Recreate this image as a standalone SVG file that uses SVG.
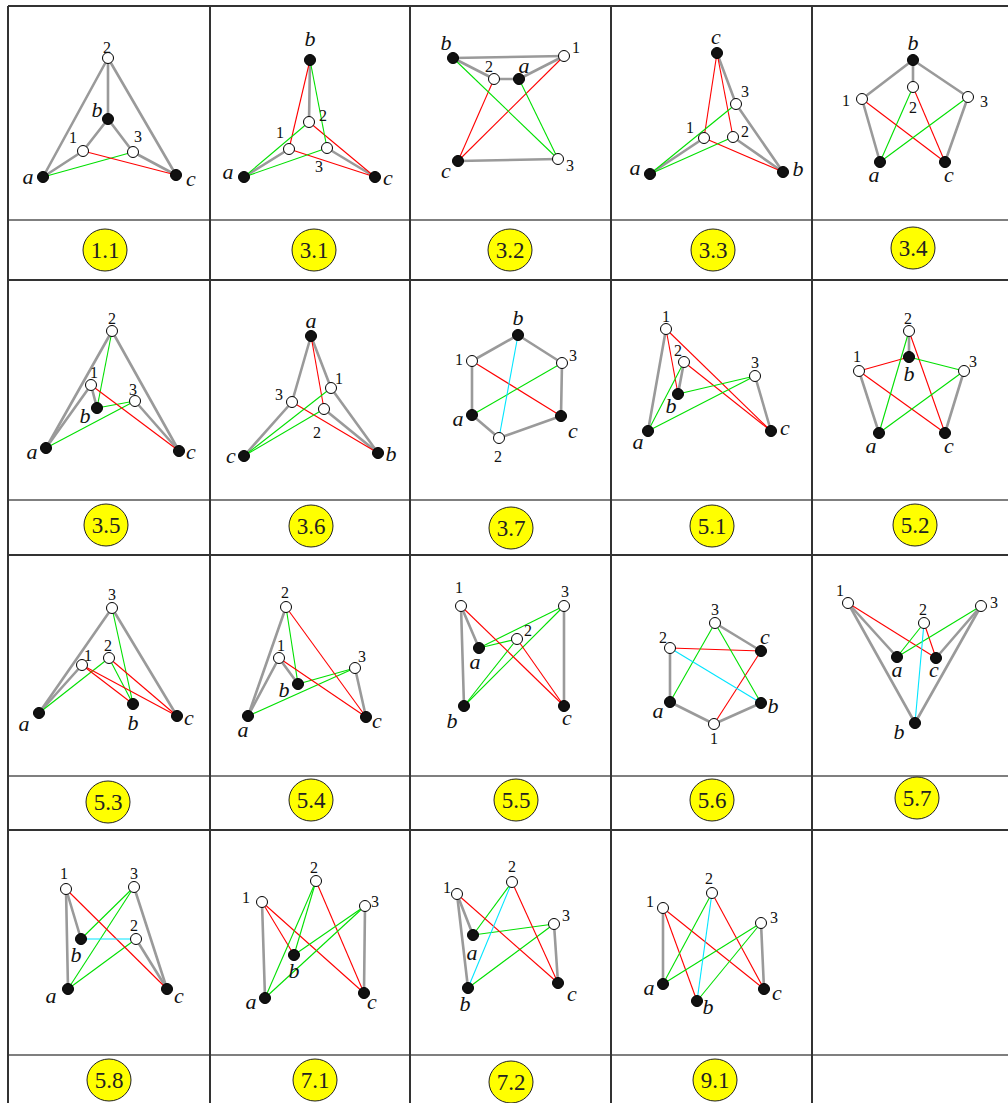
<svg xmlns="http://www.w3.org/2000/svg" width="1008" height="1103" viewBox="0 0 1008 1103">
<style>
.grid{stroke:#333;stroke-width:2;fill:none}
.dv{stroke:#555;stroke-width:1.3}
.e{stroke:#9a9a9a;stroke-width:2.6;stroke-linecap:round}
.r{stroke:#ff0000;stroke-width:1.1}
.gn{stroke:#00e000;stroke-width:1.1}
.cy{stroke:#00e5ff;stroke-width:1.1}
.w{fill:#fff;stroke:#000;stroke-width:1}
.k{fill:#111;stroke:#000;stroke-width:1}
.d{font-family:"Liberation Serif",serif;font-size:16px;text-anchor:middle;fill:#111}
.l{font-family:"Liberation Serif",serif;font-style:italic;font-size:22px;text-anchor:middle;fill:#111}
.tag{fill:#ffff00;stroke:#222;stroke-width:1}
.tt{font-family:"Liberation Serif",serif;font-size:23px;text-anchor:middle;fill:#222}
</style>
<rect width="1008" height="1103" fill="#fff"/>
<g id="grid">
<line class="grid" x1="8" y1="6" x2="1008" y2="6"/>
<line class="grid" x1="8" y1="280" x2="1008" y2="280"/>
<line class="grid" x1="8" y1="555" x2="1008" y2="555"/>
<line class="grid" x1="8" y1="830" x2="1008" y2="830"/>
<line class="dv" x1="8" y1="220" x2="1008" y2="220"/>
<line class="dv" x1="8" y1="500" x2="1008" y2="500"/>
<line class="dv" x1="8" y1="776" x2="1008" y2="776"/>
<line class="dv" x1="8" y1="1055" x2="1008" y2="1055"/>
<line class="grid" x1="8" y1="6" x2="8" y2="1103"/>
<line class="grid" x1="210" y1="6" x2="210" y2="1103"/>
<line class="grid" x1="410" y1="6" x2="410" y2="1103"/>
<line class="grid" x1="611" y1="6" x2="611" y2="1103"/>
<line class="grid" x1="812" y1="6" x2="812" y2="1103"/>
</g>
<g id="tags">
<g id="t11"><ellipse class="tag" cx="105" cy="250" rx="22" ry="21"/><text class="tt" x="105" y="258">1.1</text></g>
<g id="t31"><ellipse class="tag" cx="314" cy="250" rx="22" ry="21"/><text class="tt" x="314" y="258">3.1</text></g>
<g id="t32"><ellipse class="tag" cx="510" cy="250" rx="22" ry="21"/><text class="tt" x="510" y="258">3.2</text></g>
<g id="t33"><ellipse class="tag" cx="713" cy="250" rx="22" ry="21"/><text class="tt" x="713" y="258">3.3</text></g>
<g id="t34"><ellipse class="tag" cx="913" cy="248" rx="22" ry="21"/><text class="tt" x="913" y="256">3.4</text></g>
<g id="t35"><ellipse class="tag" cx="106" cy="525" rx="22" ry="21"/><text class="tt" x="106" y="533">3.5</text></g>
<g id="t36"><ellipse class="tag" cx="311" cy="526" rx="22" ry="21"/><text class="tt" x="311" y="534">3.6</text></g>
<g id="t37"><ellipse class="tag" cx="511" cy="528" rx="22" ry="21"/><text class="tt" x="511" y="536">3.7</text></g>
<g id="t51"><ellipse class="tag" cx="712" cy="526" rx="22" ry="21"/><text class="tt" x="712" y="534">5.1</text></g>
<g id="t52"><ellipse class="tag" cx="915" cy="525" rx="22" ry="21"/><text class="tt" x="915" y="533">5.2</text></g>
<g id="t53"><ellipse class="tag" cx="108" cy="802" rx="22" ry="21"/><text class="tt" x="108" y="810">5.3</text></g>
<g id="t54"><ellipse class="tag" cx="311" cy="800" rx="22" ry="21"/><text class="tt" x="311" y="808">5.4</text></g>
<g id="t55"><ellipse class="tag" cx="516" cy="800" rx="22" ry="21"/><text class="tt" x="516" y="808">5.5</text></g>
<g id="t56"><ellipse class="tag" cx="712" cy="800" rx="22" ry="21"/><text class="tt" x="712" y="808">5.6</text></g>
<g id="t57"><ellipse class="tag" cx="917" cy="798" rx="22" ry="21"/><text class="tt" x="917" y="806">5.7</text></g>
<g id="t58"><ellipse class="tag" cx="109" cy="1080" rx="22" ry="21"/><text class="tt" x="109" y="1088">5.8</text></g>
<g id="t71"><ellipse class="tag" cx="315" cy="1080" rx="22" ry="21"/><text class="tt" x="315" y="1088">7.1</text></g>
<g id="t72"><ellipse class="tag" cx="511" cy="1082" rx="22" ry="21"/><text class="tt" x="511" y="1090">7.2</text></g>
<g id="t91"><ellipse class="tag" cx="715" cy="1080" rx="22" ry="21"/><text class="tt" x="715" y="1088">9.1</text></g>
</g>
<g id="connectors">
<!-- 1.1 -->
<line class="e" x1="43" y1="177" x2="108" y2="58"/><line class="e" x1="108" y1="58" x2="176" y2="175"/><line class="e" x1="108" y1="58" x2="108" y2="119"/><line class="e" x1="108" y1="119" x2="83" y2="151"/><line class="e" x1="108" y1="119" x2="133" y2="152"/><line class="e" x1="43" y1="177" x2="83" y2="151"/><line class="e" x1="133" y1="152" x2="176" y2="175"/>
<line class="gn" x1="43" y1="177" x2="133" y2="152"/><line class="r" x1="83" y1="151" x2="176" y2="175"/>
<!-- 3.1 -->
<line class="e" x1="310" y1="60" x2="309" y2="122"/><line class="e" x1="289" y1="149" x2="244" y2="177"/><line class="e" x1="327" y1="148" x2="375" y2="177"/>
<line class="r" x1="310" y1="60" x2="289" y2="149"/><line class="r" x1="309" y1="122" x2="375" y2="177"/><line class="r" x1="289" y1="149" x2="375" y2="177"/>
<line class="gn" x1="310" y1="60" x2="327" y2="148"/><line class="gn" x1="244" y1="177" x2="309" y2="122"/><line class="gn" x1="244" y1="177" x2="327" y2="148"/>
<!-- 3.2 -->
<line class="e" x1="453" y1="58" x2="564" y2="56"/><line class="e" x1="453" y1="58" x2="494" y2="79"/><line class="e" x1="494" y1="79" x2="519" y2="79"/><line class="e" x1="519" y1="79" x2="564" y2="56"/><line class="e" x1="458" y1="161" x2="558" y2="159"/>
<line class="r" x1="494" y1="79" x2="458" y2="161"/><line class="r" x1="564" y1="56" x2="458" y2="161"/>
<line class="gn" x1="453" y1="58" x2="558" y2="159"/><line class="gn" x1="519" y1="79" x2="558" y2="159"/>
<!-- 3.3 -->
<line class="e" x1="717" y1="53" x2="736" y2="104"/><line class="e" x1="736" y1="104" x2="783" y2="172"/><line class="e" x1="650" y1="174" x2="704" y2="138"/><line class="e" x1="733" y1="137" x2="783" y2="172"/>
<line class="r" x1="717" y1="53" x2="704" y2="138"/><line class="r" x1="717" y1="53" x2="733" y2="137"/><line class="r" x1="704" y1="138" x2="783" y2="172"/>
<line class="gn" x1="650" y1="174" x2="736" y2="104"/><line class="gn" x1="650" y1="174" x2="733" y2="137"/>
<!-- 3.4 -->
<line class="e" x1="913" y1="60" x2="862" y2="99"/><line class="e" x1="913" y1="60" x2="968" y2="97"/><line class="e" x1="913" y1="60" x2="913" y2="87"/><line class="e" x1="862" y1="99" x2="880" y2="162"/><line class="e" x1="968" y1="97" x2="945" y2="162"/>
<line class="r" x1="862" y1="99" x2="945" y2="162"/><line class="r" x1="913" y1="87" x2="945" y2="162"/>
<line class="gn" x1="913" y1="87" x2="880" y2="162"/><line class="gn" x1="968" y1="97" x2="880" y2="162"/>
<!-- 3.5 -->
<line class="e" x1="46" y1="448" x2="112" y2="331"/><line class="e" x1="112" y1="331" x2="179" y2="451"/><line class="e" x1="46" y1="448" x2="91" y2="385"/><line class="e" x1="91" y1="385" x2="97" y2="408"/><line class="e" x1="135" y1="401" x2="179" y2="451"/>
<line class="gn" x1="112" y1="331" x2="97" y2="408"/><line class="gn" x1="97" y1="408" x2="135" y2="401"/><line class="gn" x1="46" y1="448" x2="135" y2="401"/>
<line class="r" x1="91" y1="385" x2="179" y2="451"/>
<!-- 3.6 -->
<line class="e" x1="311" y1="336" x2="292" y2="402"/><line class="e" x1="311" y1="336" x2="331" y2="388"/><line class="e" x1="292" y1="402" x2="244" y2="456"/><line class="e" x1="331" y1="388" x2="378" y2="453"/><line class="e" x1="324" y1="409" x2="378" y2="453"/>
<line class="r" x1="311" y1="336" x2="324" y2="409"/><line class="r" x1="292" y1="402" x2="378" y2="453"/>
<line class="gn" x1="244" y1="456" x2="331" y2="388"/><line class="gn" x1="244" y1="456" x2="324" y2="409"/>
<!-- 3.7 -->
<line class="e" x1="518" y1="335" x2="472" y2="361"/><line class="e" x1="518" y1="335" x2="562" y2="363"/><line class="e" x1="472" y1="361" x2="472" y2="415"/><line class="e" x1="562" y1="363" x2="561" y2="416"/><line class="e" x1="472" y1="415" x2="499" y2="438"/><line class="e" x1="499" y1="438" x2="561" y2="416"/>
<line class="r" x1="472" y1="361" x2="561" y2="416"/><line class="gn" x1="472" y1="415" x2="562" y2="363"/><line class="cy" x1="518" y1="335" x2="499" y2="438"/>
<!-- 5.1 -->
<line class="e" x1="666" y1="329" x2="648" y2="431"/><line class="e" x1="684" y1="362" x2="678" y2="394"/><line class="e" x1="755" y1="376" x2="771" y2="431"/>
<line class="r" x1="666" y1="329" x2="678" y2="394"/><line class="r" x1="666" y1="329" x2="771" y2="431"/><line class="r" x1="684" y1="362" x2="771" y2="431"/>
<line class="gn" x1="684" y1="362" x2="648" y2="431"/><line class="gn" x1="678" y1="394" x2="755" y2="376"/><line class="gn" x1="648" y1="431" x2="755" y2="376"/>
<!-- 5.2 -->
<line class="e" x1="909" y1="331" x2="909" y2="357"/><line class="e" x1="859" y1="371" x2="879" y2="433"/><line class="e" x1="964" y1="371" x2="945" y2="433"/>
<line class="r" x1="859" y1="371" x2="909" y2="357"/><line class="r" x1="859" y1="371" x2="945" y2="433"/><line class="r" x1="909" y1="331" x2="945" y2="433"/>
<line class="gn" x1="909" y1="331" x2="879" y2="433"/><line class="gn" x1="909" y1="357" x2="964" y2="371"/><line class="gn" x1="879" y1="433" x2="964" y2="371"/>
<!-- 5.3 -->
<line class="e" x1="39" y1="713" x2="112" y2="608"/><line class="e" x1="112" y1="608" x2="177" y2="716"/><line class="e" x1="39" y1="713" x2="82" y2="665"/>
<line class="gn" x1="112" y1="608" x2="133" y2="704"/><line class="gn" x1="109" y1="658" x2="133" y2="704"/><line class="gn" x1="39" y1="713" x2="109" y2="658"/>
<line class="r" x1="82" y1="665" x2="133" y2="704"/><line class="r" x1="82" y1="665" x2="177" y2="716"/><line class="r" x1="109" y1="658" x2="177" y2="716"/>
<!-- 5.4 -->
<line class="e" x1="286" y1="607" x2="248" y2="716"/><line class="e" x1="279" y1="658" x2="248" y2="716"/><line class="e" x1="279" y1="658" x2="298" y2="684"/><line class="e" x1="355" y1="668" x2="366" y2="717"/>
<line class="gn" x1="286" y1="607" x2="298" y2="684"/><line class="gn" x1="298" y1="684" x2="355" y2="668"/><line class="gn" x1="248" y1="716" x2="355" y2="668"/>
<line class="r" x1="286" y1="607" x2="366" y2="717"/><line class="r" x1="279" y1="658" x2="366" y2="717"/>
<!-- 5.5 -->
<line class="e" x1="461" y1="606" x2="479" y2="648"/><line class="e" x1="461" y1="606" x2="464" y2="706"/><line class="e" x1="564" y1="606" x2="564" y2="706"/>
<line class="gn" x1="479" y1="648" x2="564" y2="606"/><line class="gn" x1="479" y1="648" x2="517" y2="639"/><line class="gn" x1="464" y1="706" x2="517" y2="639"/><line class="gn" x1="464" y1="706" x2="564" y2="606"/>
<line class="r" x1="461" y1="606" x2="564" y2="706"/><line class="r" x1="517" y1="639" x2="564" y2="706"/>
<!-- 5.6 -->
<line class="e" x1="715" y1="623" x2="761" y2="651"/><line class="e" x1="670" y1="648" x2="670" y2="702"/><line class="e" x1="670" y1="702" x2="714" y2="724"/><line class="e" x1="714" y1="724" x2="761" y2="703"/>
<line class="r" x1="670" y1="648" x2="761" y2="651"/><line class="r" x1="714" y1="724" x2="761" y2="651"/>
<line class="gn" x1="715" y1="623" x2="670" y2="702"/><line class="gn" x1="715" y1="623" x2="761" y2="703"/>
<line class="cy" x1="670" y1="648" x2="761" y2="703"/>
<!-- 5.7 -->
<line class="e" x1="848" y1="603" x2="897" y2="657"/><line class="e" x1="848" y1="603" x2="915" y2="723"/><line class="e" x1="981" y1="606" x2="936" y2="658"/><line class="e" x1="981" y1="606" x2="915" y2="723"/>
<line class="r" x1="848" y1="603" x2="936" y2="658"/><line class="r" x1="924" y1="623" x2="936" y2="658"/>
<line class="gn" x1="924" y1="623" x2="897" y2="657"/><line class="gn" x1="981" y1="606" x2="897" y2="657"/>
<line class="cy" x1="924" y1="623" x2="915" y2="723"/>
<!-- 5.8 -->
<line class="e" x1="66" y1="889" x2="68" y2="989"/><line class="e" x1="66" y1="889" x2="81" y2="939"/><line class="e" x1="134" y1="887" x2="167" y2="989"/><line class="e" x1="136" y1="939" x2="167" y2="989"/>
<line class="gn" x1="134" y1="887" x2="81" y2="939"/><line class="gn" x1="134" y1="887" x2="68" y2="989"/><line class="gn" x1="136" y1="939" x2="68" y2="989"/>
<line class="r" x1="66" y1="889" x2="167" y2="989"/><line class="cy" x1="81" y1="939" x2="136" y2="939"/>
<!-- 7.1 -->
<line class="e" x1="262" y1="902" x2="265" y2="998"/><line class="e" x1="365" y1="906" x2="364" y2="993"/>
<line class="r" x1="262" y1="902" x2="294" y2="955"/><line class="r" x1="262" y1="902" x2="364" y2="993"/><line class="r" x1="316" y1="881" x2="364" y2="993"/>
<line class="gn" x1="316" y1="881" x2="265" y2="998"/><line class="gn" x1="316" y1="881" x2="294" y2="955"/><line class="gn" x1="365" y1="906" x2="294" y2="955"/><line class="gn" x1="365" y1="906" x2="265" y2="998"/>
<!-- 7.2 -->
<line class="e" x1="457" y1="894" x2="473" y2="935"/><line class="e" x1="457" y1="894" x2="468" y2="988"/><line class="e" x1="554" y1="924" x2="558" y2="983"/>
<line class="gn" x1="512" y1="882" x2="473" y2="935"/><line class="gn" x1="473" y1="935" x2="554" y2="924"/><line class="gn" x1="468" y1="988" x2="554" y2="924"/>
<line class="r" x1="457" y1="894" x2="558" y2="983"/><line class="r" x1="512" y1="882" x2="558" y2="983"/>
<line class="cy" x1="512" y1="882" x2="468" y2="988"/>
<!-- 9.1 -->
<line class="e" x1="663" y1="908" x2="663" y2="984"/><line class="e" x1="761" y1="923" x2="764" y2="989"/>
<line class="r" x1="663" y1="908" x2="697" y2="1001"/><line class="r" x1="663" y1="908" x2="764" y2="989"/><line class="r" x1="712" y1="893" x2="764" y2="989"/>
<line class="gn" x1="712" y1="893" x2="663" y2="984"/><line class="gn" x1="761" y1="923" x2="663" y2="984"/><line class="gn" x1="761" y1="923" x2="697" y2="1001"/>
<line class="cy" x1="712" y1="893" x2="697" y2="1001"/>
</g>
<g id="nodes">
<!-- 1.1 -->
<g id="p11-2"><circle class="w" cx="108" cy="58" r="5.5"/><text class="d" x="107" y="53">2</text></g>
<g id="p11-b"><circle class="k" cx="108" cy="119" r="5.5"/><text class="l" x="97" y="117">b</text></g>
<g id="p11-1"><circle class="w" cx="83" cy="151" r="5.5"/><text class="d" x="73" y="143">1</text></g>
<g id="p11-3"><circle class="w" cx="133" cy="152" r="5.5"/><text class="d" x="138" y="142">3</text></g>
<g id="p11-a"><circle class="k" cx="43" cy="177" r="5.5"/><text class="l" x="28" y="184">a</text></g>
<g id="p11-c"><circle class="k" cx="176" cy="175" r="5.5"/><text class="l" x="191" y="186">c</text></g>
<!-- 3.1 -->
<g id="p31-b"><circle class="k" cx="310" cy="60" r="5.5"/><text class="l" x="310" y="46">b</text></g>
<g id="p31-2"><circle class="w" cx="309" cy="122" r="5.5"/><text class="d" x="323" y="121">2</text></g>
<g id="p31-1"><circle class="w" cx="289" cy="149" r="5.5"/><text class="d" x="280" y="138">1</text></g>
<g id="p31-3"><circle class="w" cx="327" cy="148" r="5.5"/><text class="d" x="319" y="172">3</text></g>
<g id="p31-a"><circle class="k" cx="244" cy="177" r="5.5"/><text class="l" x="228" y="179">a</text></g>
<g id="p31-c"><circle class="k" cx="375" cy="177" r="5.5"/><text class="l" x="388" y="185">c</text></g>
<!-- 3.2 -->
<g id="p32-b"><circle class="k" cx="453" cy="58" r="5.5"/><text class="l" x="446" y="50">b</text></g>
<g id="p32-1"><circle class="w" cx="564" cy="56" r="5.5"/><text class="d" x="576" y="53">1</text></g>
<g id="p32-2"><circle class="w" cx="494" cy="79" r="5.5"/><text class="d" x="489" y="72">2</text></g>
<g id="p32-a"><circle class="k" cx="519" cy="79" r="5.5"/><text class="l" x="524" y="73">a</text></g>
<g id="p32-c"><circle class="k" cx="458" cy="161" r="5.5"/><text class="l" x="446" y="178">c</text></g>
<g id="p32-3"><circle class="w" cx="558" cy="159" r="5.5"/><text class="d" x="570" y="171">3</text></g>
<!-- 3.3 -->
<g id="p33-c"><circle class="k" cx="717" cy="53" r="5.5"/><text class="l" x="716" y="44">c</text></g>
<g id="p33-3"><circle class="w" cx="736" cy="104" r="5.5"/><text class="d" x="745" y="97">3</text></g>
<g id="p33-1"><circle class="w" cx="704" cy="138" r="5.5"/><text class="d" x="690" y="133">1</text></g>
<g id="p33-2"><circle class="w" cx="733" cy="137" r="5.5"/><text class="d" x="745" y="137">2</text></g>
<g id="p33-a"><circle class="k" cx="650" cy="174" r="5.5"/><text class="l" x="635" y="175">a</text></g>
<g id="p33-b"><circle class="k" cx="783" cy="172" r="5.5"/><text class="l" x="798" y="176">b</text></g>
<!-- 3.4 -->
<g id="p34-b"><circle class="k" cx="913" cy="60" r="5.5"/><text class="l" x="913" y="50">b</text></g>
<g id="p34-2"><circle class="w" cx="913" cy="87" r="5.5"/><text class="d" x="913" y="113">2</text></g>
<g id="p34-1"><circle class="w" cx="862" cy="99" r="5.5"/><text class="d" x="846" y="106">1</text></g>
<g id="p34-3"><circle class="w" cx="968" cy="97" r="5.5"/><text class="d" x="984" y="107">3</text></g>
<g id="p34-a"><circle class="k" cx="880" cy="162" r="5.5"/><text class="l" x="874" y="182">a</text></g>
<g id="p34-c"><circle class="k" cx="945" cy="162" r="5.5"/><text class="l" x="949" y="182">c</text></g>
<!-- 3.5 -->
<g id="p35-2"><circle class="w" cx="112" cy="331" r="5.5"/><text class="d" x="112" y="324">2</text></g>
<g id="p35-1"><circle class="w" cx="91" cy="385" r="5.5"/><text class="d" x="94" y="378">1</text></g>
<g id="p35-b"><circle class="k" cx="97" cy="408" r="5.5"/><text class="l" x="85" y="423">b</text></g>
<g id="p35-3"><circle class="w" cx="135" cy="401" r="5.5"/><text class="d" x="133" y="395">3</text></g>
<g id="p35-a"><circle class="k" cx="46" cy="448" r="5.5"/><text class="l" x="32" y="459">a</text></g>
<g id="p35-c"><circle class="k" cx="179" cy="451" r="5.5"/><text class="l" x="191" y="459">c</text></g>
<!-- 3.6 -->
<g id="p36-a"><circle class="k" cx="311" cy="336" r="5.5"/><text class="l" x="311" y="328">a</text></g>
<g id="p36-1"><circle class="w" cx="331" cy="388" r="5.5"/><text class="d" x="339" y="384">1</text></g>
<g id="p36-3"><circle class="w" cx="292" cy="402" r="5.5"/><text class="d" x="279" y="400">3</text></g>
<g id="p36-2"><circle class="w" cx="324" cy="409" r="5.5"/><text class="d" x="317" y="438">2</text></g>
<g id="p36-c"><circle class="k" cx="244" cy="456" r="5.5"/><text class="l" x="231" y="463">c</text></g>
<g id="p36-b"><circle class="k" cx="378" cy="453" r="5.5"/><text class="l" x="391" y="461">b</text></g>
<!-- 3.7 -->
<g id="p37-b"><circle class="k" cx="518" cy="335" r="5.5"/><text class="l" x="518" y="325">b</text></g>
<g id="p37-1"><circle class="w" cx="472" cy="361" r="5.5"/><text class="d" x="459" y="365">1</text></g>
<g id="p37-3"><circle class="w" cx="562" cy="363" r="5.5"/><text class="d" x="573" y="361">3</text></g>
<g id="p37-a"><circle class="k" cx="472" cy="415" r="5.5"/><text class="l" x="458" y="426">a</text></g>
<g id="p37-c"><circle class="k" cx="561" cy="416" r="5.5"/><text class="l" x="573" y="438">c</text></g>
<g id="p37-2"><circle class="w" cx="499" cy="438" r="5.5"/><text class="d" x="498" y="462">2</text></g>
<!-- 5.1 -->
<g id="p51-1"><circle class="w" cx="666" cy="329" r="5.5"/><text class="d" x="666" y="322">1</text></g>
<g id="p51-2"><circle class="w" cx="684" cy="362" r="5.5"/><text class="d" x="678" y="356">2</text></g>
<g id="p51-3"><circle class="w" cx="755" cy="376" r="5.5"/><text class="d" x="755" y="368">3</text></g>
<g id="p51-b"><circle class="k" cx="678" cy="394" r="5.5"/><text class="l" x="671" y="413">b</text></g>
<g id="p51-a"><circle class="k" cx="648" cy="431" r="5.5"/><text class="l" x="638" y="449">a</text></g>
<g id="p51-c"><circle class="k" cx="771" cy="431" r="5.5"/><text class="l" x="785" y="435">c</text></g>
<!-- 5.2 -->
<g id="p52-2"><circle class="w" cx="909" cy="331" r="5.5"/><text class="d" x="908" y="324">2</text></g>
<g id="p52-b"><circle class="k" cx="909" cy="357" r="5.5"/><text class="l" x="909" y="381">b</text></g>
<g id="p52-1"><circle class="w" cx="859" cy="371" r="5.5"/><text class="d" x="857" y="362">1</text></g>
<g id="p52-3"><circle class="w" cx="964" cy="371" r="5.5"/><text class="d" x="973" y="367">3</text></g>
<g id="p52-a"><circle class="k" cx="879" cy="433" r="5.5"/><text class="l" x="871" y="453">a</text></g>
<g id="p52-c"><circle class="k" cx="945" cy="433" r="5.5"/><text class="l" x="949" y="453">c</text></g>
<!-- 5.3 -->
<g id="p53-3"><circle class="w" cx="112" cy="608" r="5.5"/><text class="d" x="112" y="600">3</text></g>
<g id="p53-1"><circle class="w" cx="82" cy="665" r="5.5"/><text class="d" x="88" y="661">1</text></g>
<g id="p53-2"><circle class="w" cx="109" cy="658" r="5.5"/><text class="d" x="108" y="651">2</text></g>
<g id="p53-a"><circle class="k" cx="39" cy="713" r="5.5"/><text class="l" x="24" y="731">a</text></g>
<g id="p53-b"><circle class="k" cx="133" cy="704" r="5.5"/><text class="l" x="133" y="730">b</text></g>
<g id="p53-c"><circle class="k" cx="177" cy="716" r="5.5"/><text class="l" x="189" y="725">c</text></g>
<!-- 5.4 -->
<g id="p54-2"><circle class="w" cx="286" cy="607" r="5.5"/><text class="d" x="285" y="598">2</text></g>
<g id="p54-1"><circle class="w" cx="279" cy="658" r="5.5"/><text class="d" x="281" y="651">1</text></g>
<g id="p54-3"><circle class="w" cx="355" cy="668" r="5.5"/><text class="d" x="362" y="662">3</text></g>
<g id="p54-b"><circle class="k" cx="298" cy="684" r="5.5"/><text class="l" x="284" y="697">b</text></g>
<g id="p54-a"><circle class="k" cx="248" cy="716" r="5.5"/><text class="l" x="243" y="737">a</text></g>
<g id="p54-c"><circle class="k" cx="366" cy="717" r="5.5"/><text class="l" x="377" y="728">c</text></g>
<!-- 5.5 -->
<g id="p55-1"><circle class="w" cx="461" cy="606" r="5.5"/><text class="d" x="459" y="593">1</text></g>
<g id="p55-3"><circle class="w" cx="564" cy="606" r="5.5"/><text class="d" x="565" y="597">3</text></g>
<g id="p55-2"><circle class="w" cx="517" cy="639" r="5.5"/><text class="d" x="528" y="636">2</text></g>
<g id="p55-a"><circle class="k" cx="479" cy="648" r="5.5"/><text class="l" x="475" y="669">a</text></g>
<g id="p55-b"><circle class="k" cx="464" cy="706" r="5.5"/><text class="l" x="452" y="728">b</text></g>
<g id="p55-c"><circle class="k" cx="564" cy="706" r="5.5"/><text class="l" x="567" y="725">c</text></g>
<!-- 5.6 -->
<g id="p56-3"><circle class="w" cx="715" cy="623" r="5.5"/><text class="d" x="715" y="615">3</text></g>
<g id="p56-c"><circle class="k" cx="761" cy="651" r="5.5"/><text class="l" x="765" y="644">c</text></g>
<g id="p56-2"><circle class="w" cx="670" cy="648" r="5.5"/><text class="d" x="663" y="643">2</text></g>
<g id="p56-a"><circle class="k" cx="670" cy="702" r="5.5"/><text class="l" x="658" y="718">a</text></g>
<g id="p56-b"><circle class="k" cx="761" cy="703" r="5.5"/><text class="l" x="773" y="713">b</text></g>
<g id="p56-1"><circle class="w" cx="714" cy="724" r="5.5"/><text class="d" x="714" y="744">1</text></g>
<!-- 5.7 -->
<g id="p57-1"><circle class="w" cx="848" cy="603" r="5.5"/><text class="d" x="840" y="596">1</text></g>
<g id="p57-2"><circle class="w" cx="924" cy="623" r="5.5"/><text class="d" x="923" y="615">2</text></g>
<g id="p57-3"><circle class="w" cx="981" cy="606" r="5.5"/><text class="d" x="994" y="608">3</text></g>
<g id="p57-a"><circle class="k" cx="897" cy="657" r="5.5"/><text class="l" x="897" y="677">a</text></g>
<g id="p57-c"><circle class="k" cx="936" cy="658" r="5.5"/><text class="l" x="934" y="677">c</text></g>
<g id="p57-b"><circle class="k" cx="915" cy="723" r="5.5"/><text class="l" x="899" y="739">b</text></g>
<!-- 5.8 -->
<g id="p58-1"><circle class="w" cx="66" cy="889" r="5.5"/><text class="d" x="64" y="879">1</text></g>
<g id="p58-3"><circle class="w" cx="134" cy="887" r="5.5"/><text class="d" x="134" y="879">3</text></g>
<g id="p58-2"><circle class="w" cx="136" cy="939" r="5.5"/><text class="d" x="134" y="931">2</text></g>
<g id="p58-b"><circle class="k" cx="81" cy="939" r="5.5"/><text class="l" x="76" y="962">b</text></g>
<g id="p58-a"><circle class="k" cx="68" cy="989" r="5.5"/><text class="l" x="51" y="1003">a</text></g>
<g id="p58-c"><circle class="k" cx="167" cy="989" r="5.5"/><text class="l" x="179" y="1003">c</text></g>
<!-- 7.1 -->
<g id="p71-2"><circle class="w" cx="316" cy="881" r="5.5"/><text class="d" x="314" y="873">2</text></g>
<g id="p71-1"><circle class="w" cx="262" cy="902" r="5.5"/><text class="d" x="246" y="903">1</text></g>
<g id="p71-3"><circle class="w" cx="365" cy="906" r="5.5"/><text class="d" x="375" y="907">3</text></g>
<g id="p71-b"><circle class="k" cx="294" cy="955" r="5.5"/><text class="l" x="294" y="978">b</text></g>
<g id="p71-a"><circle class="k" cx="265" cy="998" r="5.5"/><text class="l" x="251" y="1009">a</text></g>
<g id="p71-c"><circle class="k" cx="364" cy="993" r="5.5"/><text class="l" x="372" y="1009">c</text></g>
<!-- 7.2 -->
<g id="p72-1"><circle class="w" cx="457" cy="894" r="5.5"/><text class="d" x="447" y="893">1</text></g>
<g id="p72-2"><circle class="w" cx="512" cy="882" r="5.5"/><text class="d" x="512" y="872">2</text></g>
<g id="p72-3"><circle class="w" cx="554" cy="924" r="5.5"/><text class="d" x="566" y="921">3</text></g>
<g id="p72-a"><circle class="k" cx="473" cy="935" r="5.5"/><text class="l" x="472" y="960">a</text></g>
<g id="p72-b"><circle class="k" cx="468" cy="988" r="5.5"/><text class="l" x="465" y="1011">b</text></g>
<g id="p72-c"><circle class="k" cx="558" cy="983" r="5.5"/><text class="l" x="572" y="1001">c</text></g>
<!-- 9.1 -->
<g id="p91-1"><circle class="w" cx="663" cy="908" r="5.5"/><text class="d" x="650" y="907">1</text></g>
<g id="p91-2"><circle class="w" cx="712" cy="893" r="5.5"/><text class="d" x="709" y="884">2</text></g>
<g id="p91-3"><circle class="w" cx="761" cy="923" r="5.5"/><text class="d" x="774" y="923">3</text></g>
<g id="p91-a"><circle class="k" cx="663" cy="984" r="5.5"/><text class="l" x="649" y="995">a</text></g>
<g id="p91-b"><circle class="k" cx="697" cy="1001" r="5.5"/><text class="l" x="708" y="1014">b</text></g>
<g id="p91-c"><circle class="k" cx="764" cy="989" r="5.5"/><text class="l" x="777" y="1000">c</text></g>
</g>
</svg>
